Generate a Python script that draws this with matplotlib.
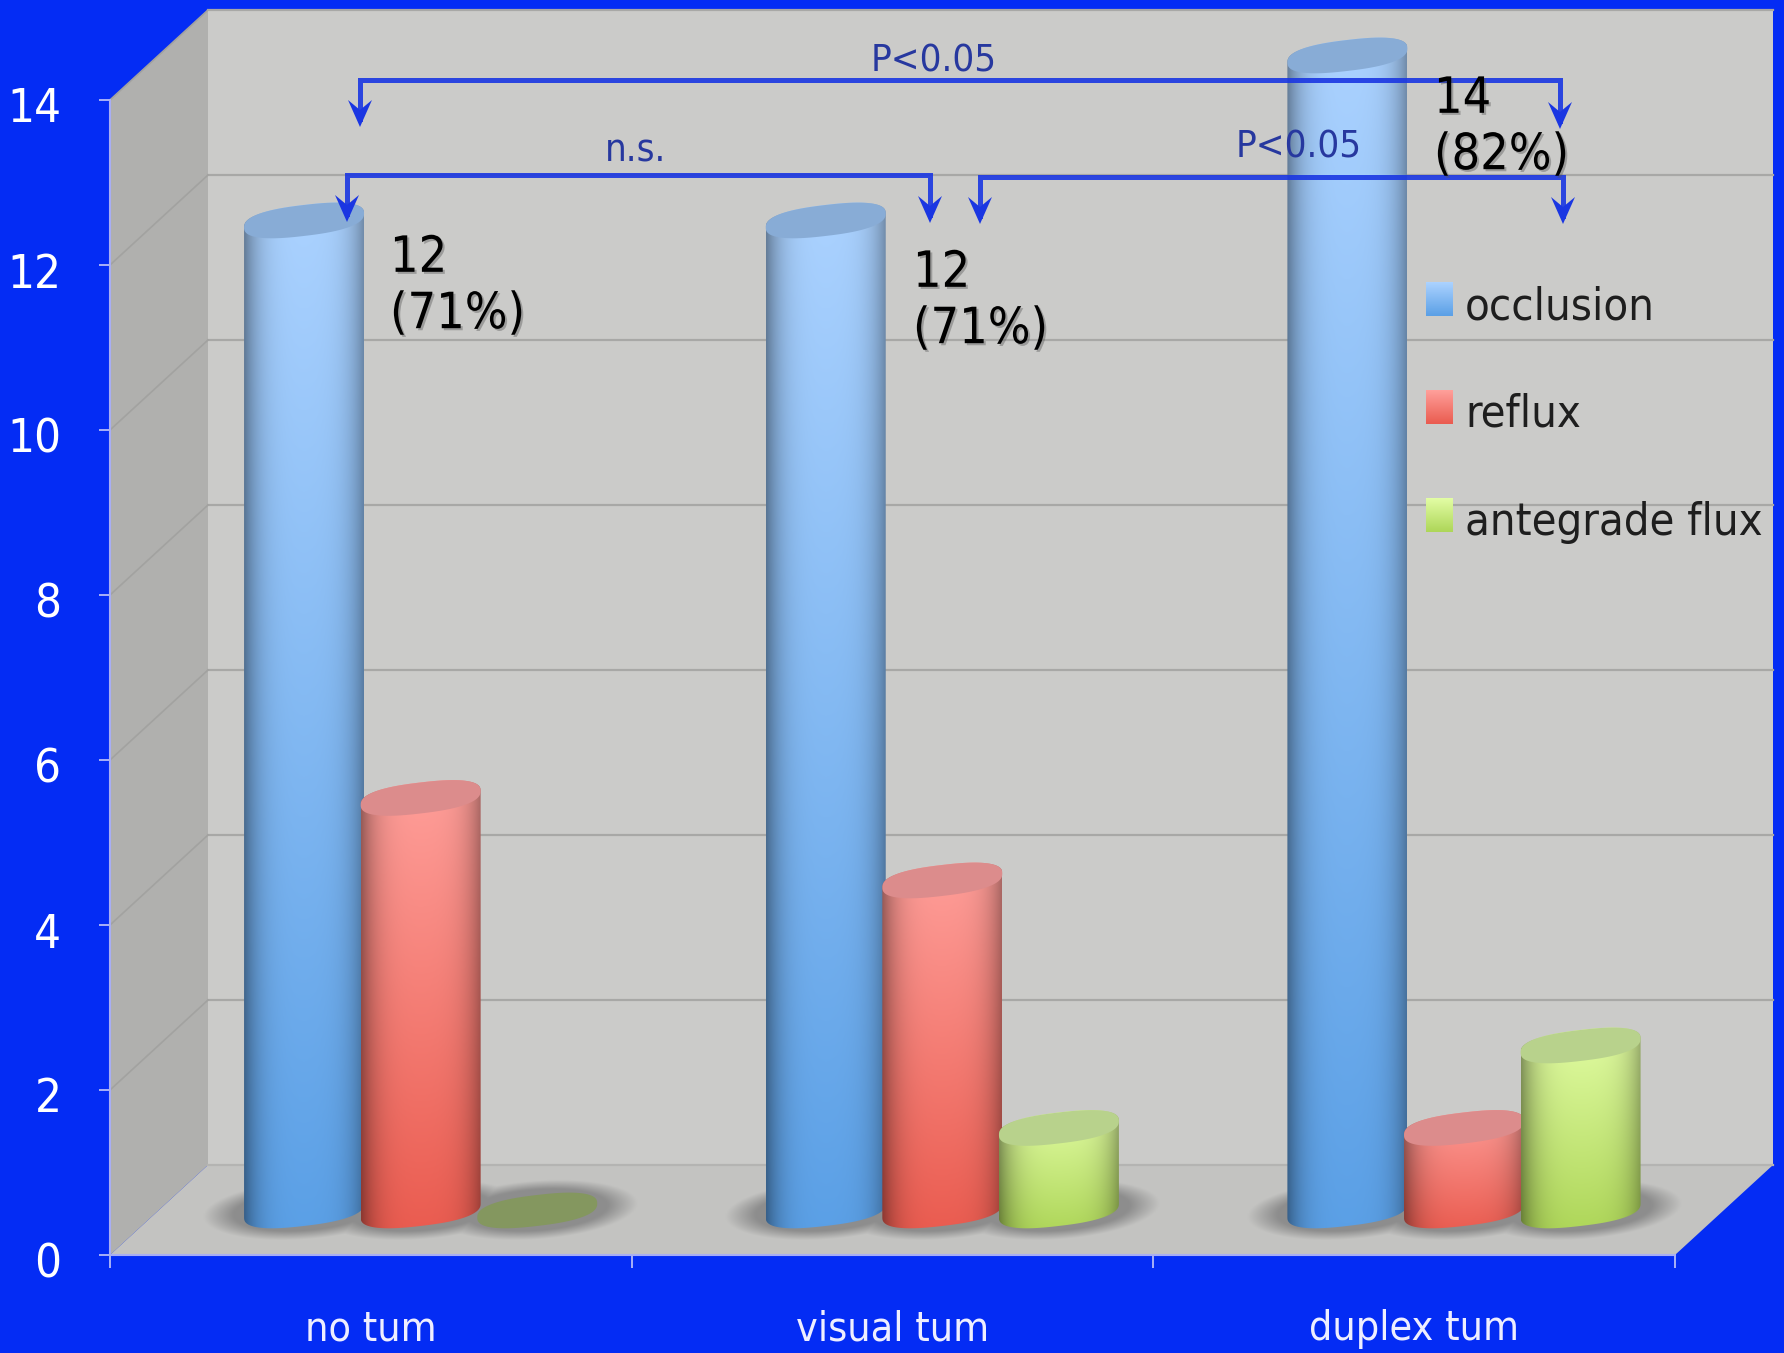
import numpy as np
import matplotlib
matplotlib.use('Agg')
import matplotlib.pyplot as plt
import matplotlib.patheffects as pe
from matplotlib.patches import Polygon
from matplotlib.transforms import Affine2D, ScaledTranslation

# values per group
categories = ['no tum', 'visual tum', 'duplex tum']
series_names = ['occlusion', 'reflux', 'antegrade flux']
occlusion = [12, 12, 14]
reflux = [5, 4, 1]
antegrade = [0, 1, 2]
occlusion_pct = [71, 71, 82]
y_ticks = [0, 2, 4, 6, 8, 10, 12, 14]

W, H = 1784, 1353
BLUE = '#042cf4'
ARROW = '#1a36e2'
plt.rcParams['font.family'] = 'DejaVu Sans'
plt.rcParams['font.stretch'] = 'condensed'

# colours: top of side, bottom of side, lid
blue_c = ('#abd2ff', '#5ba0e6', '#88acd6')
red_c = ('#ff9f9a', '#ea5c50', '#dc8c8c')
green_c = ('#e2fda4', '#aed659', '#b8d28c')
zero_lid = '#84975f'

fig = plt.figure(figsize=(W / 100, H / 100), dpi=100, facecolor=BLUE)
# the axes rectangle is the front plane of the box, the rest sticks out of it
ax = fig.add_axes([110 / W, 1 - 1255 / H, 1565 / W, 1155 / H])
ax.patch.set_visible(False)

# depth of the box in data units
DX = 98 / (1565 / 3)
DY = 90 / (1155 / 14)
XU = 1565 / 3
YU = 1155 / 14

# pixels of the saved image, origin top left
img = Affine2D().scale(1 / W, -1 / H).translate(0, 1) + fig.transFigure


def hexrgb(c):
    return np.array(matplotlib.colors.to_rgb(c))


def wall(points, color, z=1):
    ax.add_patch(Polygon(points, closed=True, fc=color, ec='none', clip_on=False, zorder=z))


wall([(0, 0), (DX, DY), (DX, 14 + DY), (0, 14)], '#b0b0ae')
wall([(DX, DY), (3 + DX, DY), (3 + DX, 14 + DY), (DX, 14 + DY)], '#cbcbc9')
wall([(0, 0), (3, 0), (3 + DX, DY), (DX, DY)], '#c3c3c1')

for t in y_ticks:
    col = '#a8a8a6' if t > 0 else '#b4b4b2'
    ax.plot([DX, 3 + DX], [t + DY, t + DY], color=col, lw=1.6, clip_on=False, zorder=1.2)
    if t > 0:
        ax.plot([0, DX], [t, t + DY], color='#a2a2a0', lw=1.2, clip_on=False, zorder=1.2)

# cylinders
HALF_W = 60 / XU
LID_B = 15.5 / YU
LID_S = 7 / YU
BASE = 0.54
STEP = 0.2235
FIRST = 0.372


def ring(cx, cy, t):
    # slightly squared ellipse, tipped up towards the right
    c, s = np.cos(t), np.sin(t)
    xx = np.sign(c) * np.abs(c) ** 0.8
    yy = np.sign(s) * np.abs(s) ** 0.8
    return np.column_stack([cx + HALF_W * xx, cy + LID_B * yy + LID_S * xx])


def shadow(i):
    x0, x1, y0, y1 = i + 0.1, i + 1.1, -0.1, 1.3
    xs, ys = np.meshgrid(np.linspace(x0, x1, 300), np.linspace(y0, y1, 120))
    a = np.zeros_like(xs)
    for j in range(3):
        u = (xs - (i + FIRST + j * STEP)) / 0.19
        v = (ys - BASE - 0.08 * u) / 0.35
        d = np.sqrt(u ** 2 + v ** 2)
        a = np.maximum(a, np.clip((1.02 - d) / 0.3, 0, 1))
    rgba = np.zeros(xs.shape + (4,))
    rgba[..., :3] = 0.54
    rgba[..., 3] = a * 0.92
    im = ax.imshow(rgba, extent=(x0, x1, y0, y1), origin='lower', aspect='auto', zorder=1.5,
                   interpolation='bilinear')
    im.set_clip_box(fig.bbox)


def cylinder(cx, value, colors, z):
    top = BASE + value
    if value == 0:
        ax.add_patch(Polygon(ring(cx, top, np.linspace(0, 2 * np.pi, 80)), fc=zero_lid, ec='none',
                             clip_on=False, zorder=z))
        return
    c_top, c_bot, c_lid = colors
    u = np.linspace(-1, 1, 90)
    shade = 1 - 0.3 * np.abs(u - 0.03) ** 4 - 0.06 * u ** 2
    v = np.linspace(0, 1, 60)[:, None, None]
    rgb = hexrgb(c_bot) * (1 - v) + hexrgb(c_top) * v
    rgb = np.clip(rgb * shade[None, :, None], 0, 1)
    y0 = BASE - LID_B - LID_S
    im = ax.imshow(rgb, extent=(cx - HALF_W, cx + HALF_W, y0, top + LID_B + LID_S), origin='lower',
                   aspect='auto', zorder=z, interpolation='bilinear')
    body = np.vstack([ring(cx, BASE, np.linspace(np.pi, 2 * np.pi, 60)),
                      ring(cx, top, np.linspace(0, np.pi, 60))])
    clip = Polygon(body, closed=True, transform=ax.transData)
    im.set_clip_box(fig.bbox)
    im.set_clip_path(clip)
    ax.add_patch(Polygon(ring(cx, top, np.linspace(0, 2 * np.pi, 80)), fc=c_lid, ec='none',
                         clip_on=False, zorder=z + 0.01))


all_series = [(occlusion, blue_c), (reflux, red_c), (antegrade, green_c)]
for i in range(len(categories)):
    shadow(i)
    for j, (vals, cols) in enumerate(all_series):
        cylinder(i + FIRST + j * STEP, vals[i], cols, 2 + j * 0.1)


# arrows drawn in image pixels
def arrow_head(x, y):
    pts = [(x, y), (x - 12, y - 27), (x, y - 17), (x + 12, y - 27)]
    ax.add_patch(Polygon(pts, closed=True, fc=ARROW, ec='none', transform=img, clip_on=False, zorder=5))


def bracket(xl, xr, y, tip_l, tip_r):
    ax.plot([xl, xl, xr, xr], [tip_l - 8, y, y, tip_r - 8], color=ARROW, lw=3.6, alpha=0.9,
            transform=img, clip_on=False, zorder=5, solid_joinstyle='miter')
    arrow_head(xl, tip_l)
    arrow_head(xr, tip_r)


bracket(360, 1560, 80, 127, 129)
bracket(347, 930, 175, 222, 223)
bracket(980, 1563, 177, 224, 224)

note = dict(color='#27389f', fontsize=27.5, ha='center', va='center', transform=img, zorder=6)
ax.text(934, 61, 'P<0.05', **note)
ax.text(636, 152, 'n.s.', **note)
ax.text(1299, 148, 'P<0.05', **note)

# value labels next to the occlusion bars
label_pos = [(390, 286), (913, 301), (1434, 127)]
for (lx, ly), v, p in zip(label_pos, occlusion, occlusion_pct):
    t = ax.text(lx, ly, f'{v}\n({p}%)', color='black', fontsize=36, ha='left', va='center',
                linespacing=1.22, transform=img, zorder=7)
    t.set_path_effects([pe.SimplePatchShadow(offset=(1.5, -1.5), shadow_rgbFace='#555555', alpha=0.4),
                        pe.Normal()])

# legend
swatches = [blue_c, red_c, green_c]
for name, cols, sy, ty in zip(series_names, swatches, [282, 390, 498], [307, 414, 522]):
    grad = np.linspace(0, 1, 30)[:, None, None]
    rgb = hexrgb(cols[1]) * (1 - grad) + hexrgb(cols[0]) * grad
    im = ax.imshow(rgb, origin='lower', aspect='auto', zorder=4, interpolation='bilinear',
                   extent=((1426 - 110) / XU, (1453 - 110) / XU, (1255 - sy - 34) / YU, (1255 - sy) / YU))
    im.set_clip_box(fig.bbox)
    ax.text(1465, ty, name, color='#1e1e1e', fontsize=32.5, ha='left', va='center', transform=img, zorder=4)

# axes furniture
ax.set_xlim(0, 3)
ax.set_ylim(0, 14)
for s in ('top', 'right'):
    ax.spines[s].set_visible(False)
for s in ('left', 'bottom'):
    ax.spines[s].set_color('#a8aef4')
    ax.spines[s].set_linewidth(1.5)
ax.set_yticks(y_ticks)
ax.set_xticks([0, 1, 2, 3])
ax.set_xticklabels([])
ax.set_xticks([0.5, 1.5, 2.5], minor=True)
ax.set_xticklabels(categories, minor=True)
ax.tick_params(axis='y', length=8, width=1.3, color='#b5bbf8', labelcolor='white', labelsize=34, pad=27)
ax.tick_params(axis='x', which='major', length=9, width=1.3, color='#b5bbf8')
ax.tick_params(axis='x', which='minor', length=0, labelcolor='#eeeeff', labelsize=29.5, pad=39)
for lab in ax.get_yticklabels():
    lab.set_transform(lab.get_transform() + ScaledTranslation(0, -5 / 100, fig.dpi_scale_trans))

fig.savefig('out.png', dpi=100, facecolor=BLUE)
